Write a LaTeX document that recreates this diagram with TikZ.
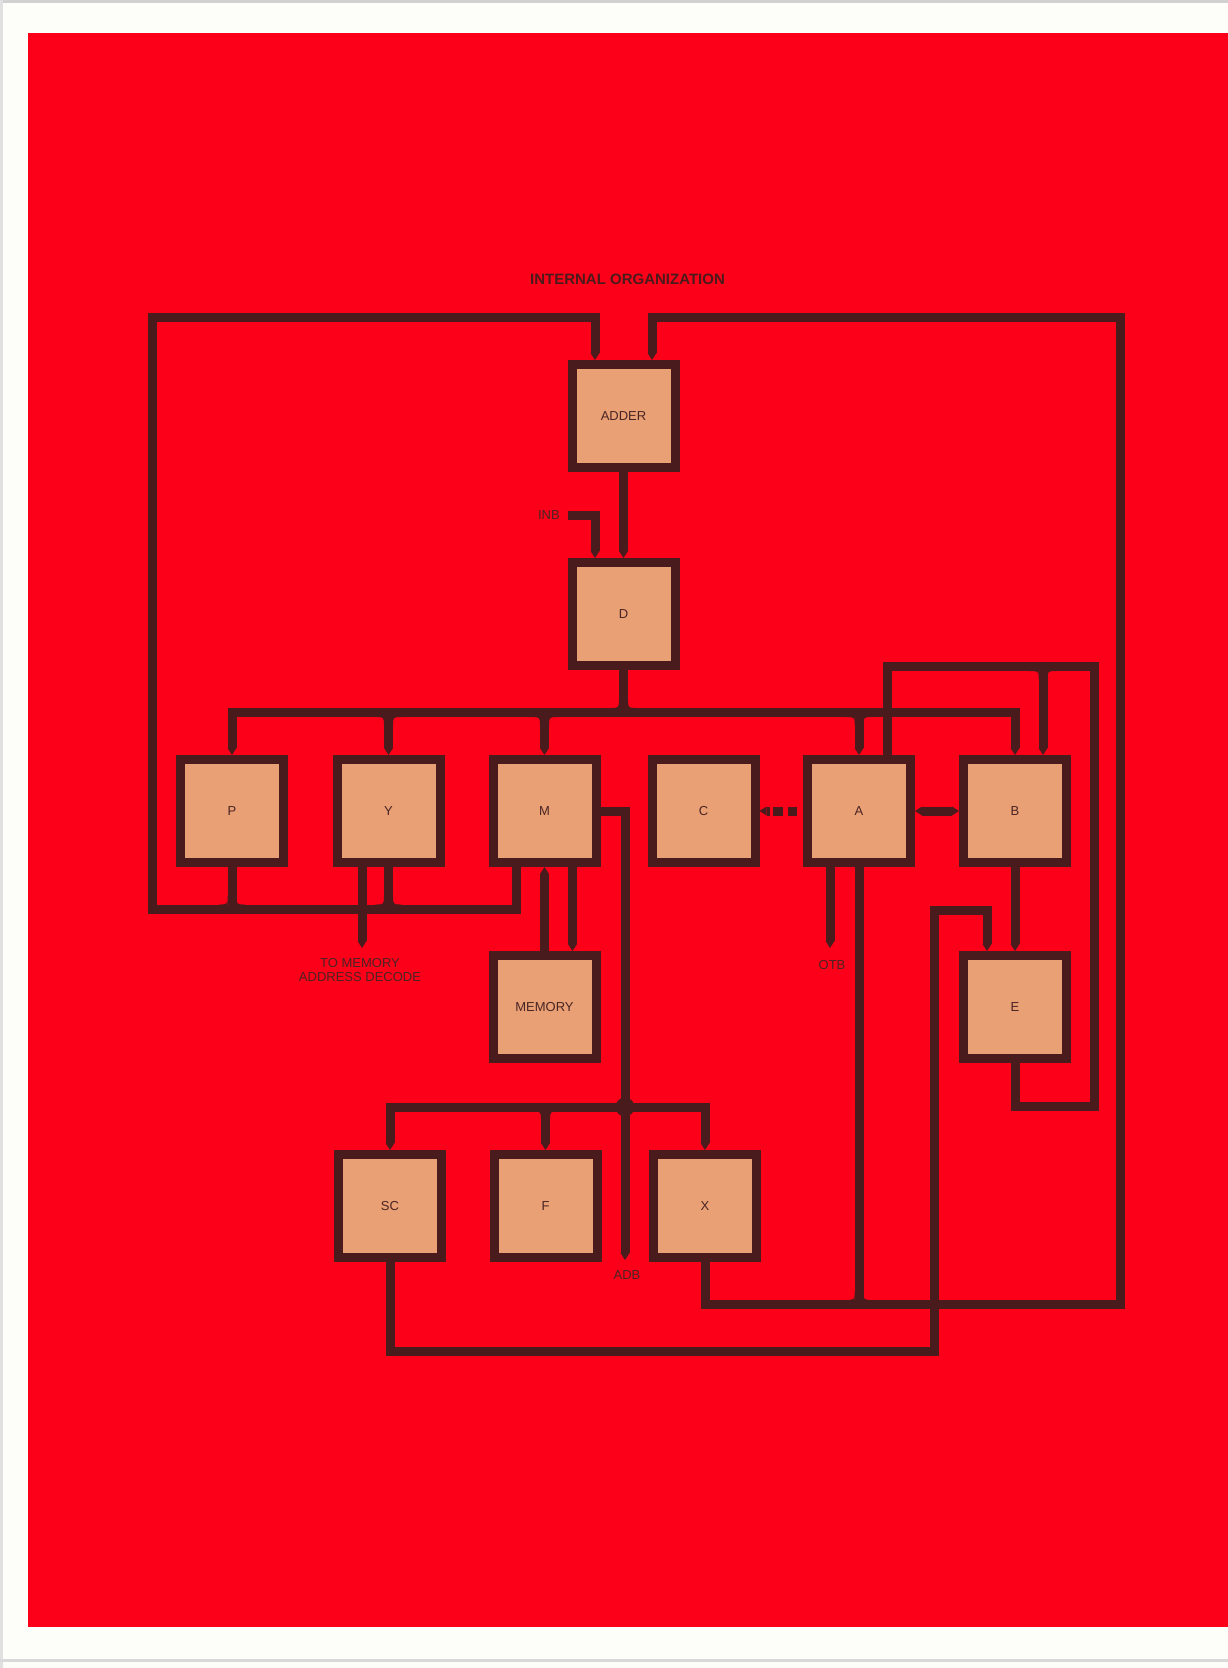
\documentclass[tikz,border=0pt]{standalone}
\usepackage{fontspec}
\setmainfont{Liberation Sans}
\usetikzlibrary{arrows.meta,calc}
\definecolor{bgred}{HTML}{FC0019}
\definecolor{wirec}{HTML}{4A1B1C}
\definecolor{tanc}{HTML}{E8A074}
\definecolor{lblc}{HTML}{4A2424}
\definecolor{paper}{HTML}{FDFDFA}
\def\filr{9}
\newcommand\mkfil[3]{%
 \fill[wirec] ({#1-4.5-\filr},{#2+(#3)*4.5}) .. controls ({#1-4.5},{#2+(#3)*4.5}) .. ({#1-4.5},{#2+(#3)*(4.5+\filr)}) -- ({#1-4.5},{#2}) -- cycle;
 \fill[wirec] ({#1+4.5+\filr},{#2+(#3)*4.5}) .. controls ({#1+4.5},{#2+(#3)*4.5}) .. ({#1+4.5},{#2+(#3)*(4.5+\filr)}) -- ({#1+4.5},{#2}) -- cycle;
}
\tikzset{
 regbox/.style={draw=wirec, line width=9pt, fill=tanc, minimum size=103pt, inner sep=0pt,
   text=lblc, font=\fontsize{13}{14}\selectfont},
 wire/.style={draw=wirec, line width=9pt, line join=miter},
 tip/.tip={Triangle[width=9pt,length=7pt,line width=0pt]},
 lbltext/.style={text=lblc, font=\fontsize{13}{13.5}\selectfont, inner sep=0pt, align=center},
}
\begin{document}
\begin{tikzpicture}[x=1pt,y=-1pt]
\useasboundingbox (0,0) rectangle (1228,1668);
\fill[paper] (0,0) rectangle (1228,1668);
\fill[black!18] (0,0) rectangle (1228,3);
\fill[black!12] (0,0) rectangle (3,1668);
\fill[black!15] (0,1659) rectangle (1228,1662);
\fill[bgred] (27.5,33) rectangle (1228,1627);

\node[text=wirec, font=\bfseries\fontsize{15}{16}\selectfont, inner sep=0pt] (title) at (627.5,279) {INTERNAL ORGANIZATION};

% boxes
\node[regbox] (adder) at (623.5,416) {ADDER};
\node[regbox] (d) at (623.5,614) {D};
\node[regbox] (nP) at (232,811) {P};
\node[regbox] (nY) at (388.5,811) {Y};
\node[regbox] (nM) at (544.5,811) {M};
\node[regbox] (nC) at (703.5,811) {C};
\node[regbox] (nA) at (859,811) {A};
\node[regbox] (nB) at (1015,811) {B};
\node[regbox] (mem) at (544.5,1007) {MEMORY};
\node[regbox] (nE) at (1015,1007) {E};
\node[regbox] (sc) at (390,1206) {SC};
\node[regbox] (nF) at (545.5,1206) {F};
\node[regbox] (nX) at (705,1206) {X};

% level coordinates
\coordinate (ytop) at (0,317.5);
\coordinate (ybusT) at (0,712.5);
\coordinate (yloopA) at (0,666.5);
\coordinate (ybusL) at (0,909);
\coordinate (yEloop) at (0,1106);
\coordinate (ybusB) at (0,1107);
\coordinate (yX) at (0,1304.5);
\coordinate (ySC) at (0,1351.5);
\coordinate (yEin) at (0,910);
\coordinate (inb) at (568,515.5);
\coordinate (dinb) at ([xshift=-28.5pt]d.north);
\coordinate (tomem) at (362,948);
\coordinate (otb) at (830,948);
\coordinate (adb) at (625,1260);

% ADDER inputs: left loop from M
\draw[wire,-tip] ([xshift=-28.5pt]nM.south) -- ([xshift=-28.5pt]nM.south |- ybusL) -- (152,909) -- (152,317.5) -- ([xshift=-28.5pt]adder.north |- ytop) -- ([xshift=-28.5pt]adder.north);
% right loop from X
\draw[wire,-tip] (nX.south) -- (nX.south |- yX) -- (1120,1304.5) -- (1120,317.5) -- ([xshift=28.5pt]adder.north |- ytop) -- ([xshift=28.5pt]adder.north);

% ADDER -> D, INB -> D
\draw[wire,-tip] (adder.south) -- (d.north);
\draw[wire,-tip] (inb) -- (inb -| dinb) -- (dinb);
\node[lbltext, anchor=east] (inbl) at (560,515) {INB};

% top bus
\draw[wire] (d.south) -- (d.south |- ybusT);
\draw[wire,tip-tip] (nP.north) -- (nP.north |- ybusT) -- (nB.north |- ybusT) -- (nB.north);
\draw[wire,-tip] (nY.north |- ybusT) -- (nY.north);
\draw[wire,-tip] (nM.north |- ybusT) -- (nM.north);
\draw[wire,-tip] (nA.north |- ybusT) -- (nA.north);
\mkfil{623.5}{712.5}{-1}
\mkfil{388.5}{712.5}{1}
\mkfil{544.5}{712.5}{1}
\mkfil{859}{712.5}{1}

% A top loop to B and E
\draw[wire] ([xshift=28pt]nA.north) -- ([xshift=28pt]nA.north |- yloopA) -- (1094,666.5) -- (1094,1106) -- (nE.south |- yEloop) -- (nE.south);
\draw[wire,-tip] ([xshift=28pt]nB.north |- yloopA) -- ([xshift=28pt]nB.north);
\mkfil{1043}{666.5}{1}

% A -> C (dotted), A <-> B
\draw[wire,-tip,dash pattern=on 9pt off 5pt on 10pt off 3pt on 30pt] ([xshift=-6pt]nA.west) -- (nC.east);
\draw[wire,tip-tip] (nA.east) -- (nB.west);

% lower left bus
\draw[wire] (nP.south) -- (nP.south |- ybusL);
\draw[wire] (nY.south) -- (nY.south |- ybusL);
\mkfil{232}{909}{-1}
\mkfil{388.5}{909}{-1}
\draw[wire,-tip] ([xshift=-26.5pt]nY.south) -- (tomem);
\node[lbltext, anchor=north] (tomeml) at (360,958.5) {TO MEMORY\\ADDRESS DECODE};

% M <-> MEMORY
\draw[wire,-tip] (mem.north) -- (nM.south);
\draw[wire,-tip] ([xshift=28pt]nM.south) -- ([xshift=28pt]mem.north);

% A bottom
\draw[wire,-tip] ([xshift=-29pt]nA.south) -- (otb);
\node[lbltext] (otbl) at (832,965) {OTB};
\draw[wire] (nA.south) -- (nA.south |- yX);
\mkfil{859}{1304.5}{-1}

% B -> E
\draw[wire,-tip] (nB.south) -- (nE.north);

% M -> ADB
\draw[wire,-tip] (nM.east) -- (nM.east -| adb) -- (adb);
\node[lbltext] (adbl) at (627,1275) {ADB};

% lower bus
\draw[wire,tip-tip] (sc.north) -- (sc.north |- ybusB) -- (nX.north |- ybusB) -- (nX.north);
\draw[wire,-tip] (nF.north |- ybusB) -- (nF.north);
\mkfil{545.5}{1107}{1}
\fill[wirec] (adb |- ybusB) circle[radius=9.5pt];

% SC loop to E
\draw[wire,-tip] (sc.south) -- (sc.south |- ySC) -- (934.5,1351.5) -- (934.5,910) -- ([xshift=-28pt]nE.north |- yEin) -- ([xshift=-28pt]nE.north);
\end{tikzpicture}
\end{document}
